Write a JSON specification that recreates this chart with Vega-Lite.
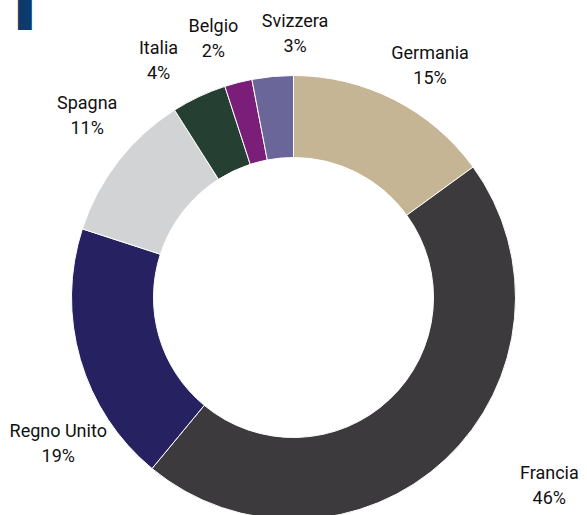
{
  "$schema": "https://vega.github.io/schema/vega-lite/v6.json",
  "width": 587,
  "height": 435,
  "autosize": {"type": "none"},
  "padding": {"top": 80, "left": 0, "right": 0, "bottom": 0},
  "background": "white",
  "title": {
    "text": "▋",
    "anchor": "start",
    "frame": "group",
    "baseline": "top",
    "offset": 0,
    "font": "DejaVu Sans",
    "fontSize": 28,
    "color": "#0B3A6B",
    "dx": 18,
    "dy": 16
  },
  "data": {
    "values": [
      {"i": 1, "paese": "Germania", "quota": 15, "label": "Germania\n15%"},
      {"i": 2, "paese": "Francia", "quota": 46, "label": "Francia\n46%"},
      {"i": 3, "paese": "Regno Unito", "quota": 19, "label": "Regno Unito\n19%"},
      {"i": 4, "paese": "Spagna", "quota": 11, "label": "Spagna\n11%"},
      {"i": 5, "paese": "Italia", "quota": 4, "label": "Italia\n4%"},
      {"i": 6, "paese": "Belgio", "quota": 2, "label": "Belgio\n2%"},
      {"i": 7, "paese": "Svizzera", "quota": 3, "label": "Svizzera\n3%"}
    ]
  },
  "transform": [
    {"stack": "quota", "sort": [{"field": "i", "order": "ascending"}], "groupby": [], "as": ["s0", "s1"]},
    {"calculate": "(datum.s0 + datum.s1) / 2", "as": "mid"}
  ],
  "layer": [
    {
      "mark": {"type": "arc", "outerRadius": 222, "innerRadius": 140, "stroke": "white", "strokeWidth": 1},
      "encoding": {
        "theta": {"field": "s0", "type": "quantitative", "scale": {"domain": [0, 100]}},
        "theta2": {"field": "s1"},
        "color": {
          "field": "paese",
          "type": "nominal",
          "scale": {
            "domain": ["Germania", "Francia", "Regno Unito", "Spagna", "Italia", "Belgio", "Svizzera"],
            "range": ["#C5B594", "#3D3A3E", "#262262", "#D1D3D4", "#263F33", "#7B1E7A", "#6A6699"]
          },
          "legend": null
        }
      }
    },
    {
      "transform": [{"filter": "datum.paese === 'Germania'"}],
      "mark": {"type": "text", "radius": 270, "dx": 14, "dy": -3, "lineBreak": "\n", "lineHeight": 25, "font": "Roboto", "fontSize": 18, "color": "#111111"},
      "encoding": {"theta": {"field": "mid", "type": "quantitative"}, "text": {"field": "label", "type": "nominal"}}
    },
    {
      "transform": [{"filter": "datum.paese === 'Francia'"}],
      "mark": {"type": "text", "radius": 270, "dx": 71, "dy": -20, "lineBreak": "\n", "lineHeight": 25, "font": "Roboto", "fontSize": 18, "color": "#111111"},
      "encoding": {"theta": {"field": "mid", "type": "quantitative"}, "text": {"field": "label", "type": "nominal"}}
    },
    {
      "transform": [{"filter": "datum.paese === 'Regno Unito'"}],
      "mark": {"type": "text", "radius": 270, "dx": 24, "dy": 59, "lineBreak": "\n", "lineHeight": 25, "font": "Roboto", "fontSize": 18, "color": "#111111"},
      "encoding": {"theta": {"field": "mid", "type": "quantitative"}, "text": {"field": "label", "type": "nominal"}}
    },
    {
      "transform": [{"filter": "datum.paese === 'Spagna'"}],
      "mark": {"type": "text", "radius": 270, "dx": 7, "dy": -28, "lineBreak": "\n", "lineHeight": 25, "font": "Roboto", "fontSize": 18, "color": "#111111"},
      "encoding": {"theta": {"field": "mid", "type": "quantitative"}, "text": {"field": "label", "type": "nominal"}}
    },
    {
      "transform": [{"filter": "datum.paese === 'Italia'"}],
      "mark": {"type": "text", "radius": 270, "dx": -20, "dy": -4, "lineBreak": "\n", "lineHeight": 25, "font": "Roboto", "fontSize": 18, "color": "#111111"},
      "encoding": {"theta": {"field": "mid", "type": "quantitative"}, "text": {"field": "label", "type": "nominal"}}
    },
    {
      "transform": [{"filter": "datum.paese === 'Belgio'"}],
      "mark": {"type": "text", "radius": 270, "dx": -13, "dy": -9, "lineBreak": "\n", "lineHeight": 25, "font": "Roboto", "fontSize": 18, "color": "#111111"},
      "encoding": {"theta": {"field": "mid", "type": "quantitative"}, "text": {"field": "label", "type": "nominal"}}
    },
    {
      "transform": [{"filter": "datum.paese === 'Svizzera'"}],
      "mark": {"type": "text", "radius": 270, "dx": 27, "dy": -7, "lineBreak": "\n", "lineHeight": 25, "font": "Roboto", "fontSize": 18, "color": "#111111"},
      "encoding": {"theta": {"field": "mid", "type": "quantitative"}, "text": {"field": "label", "type": "nominal"}}
    }
  ]
}
